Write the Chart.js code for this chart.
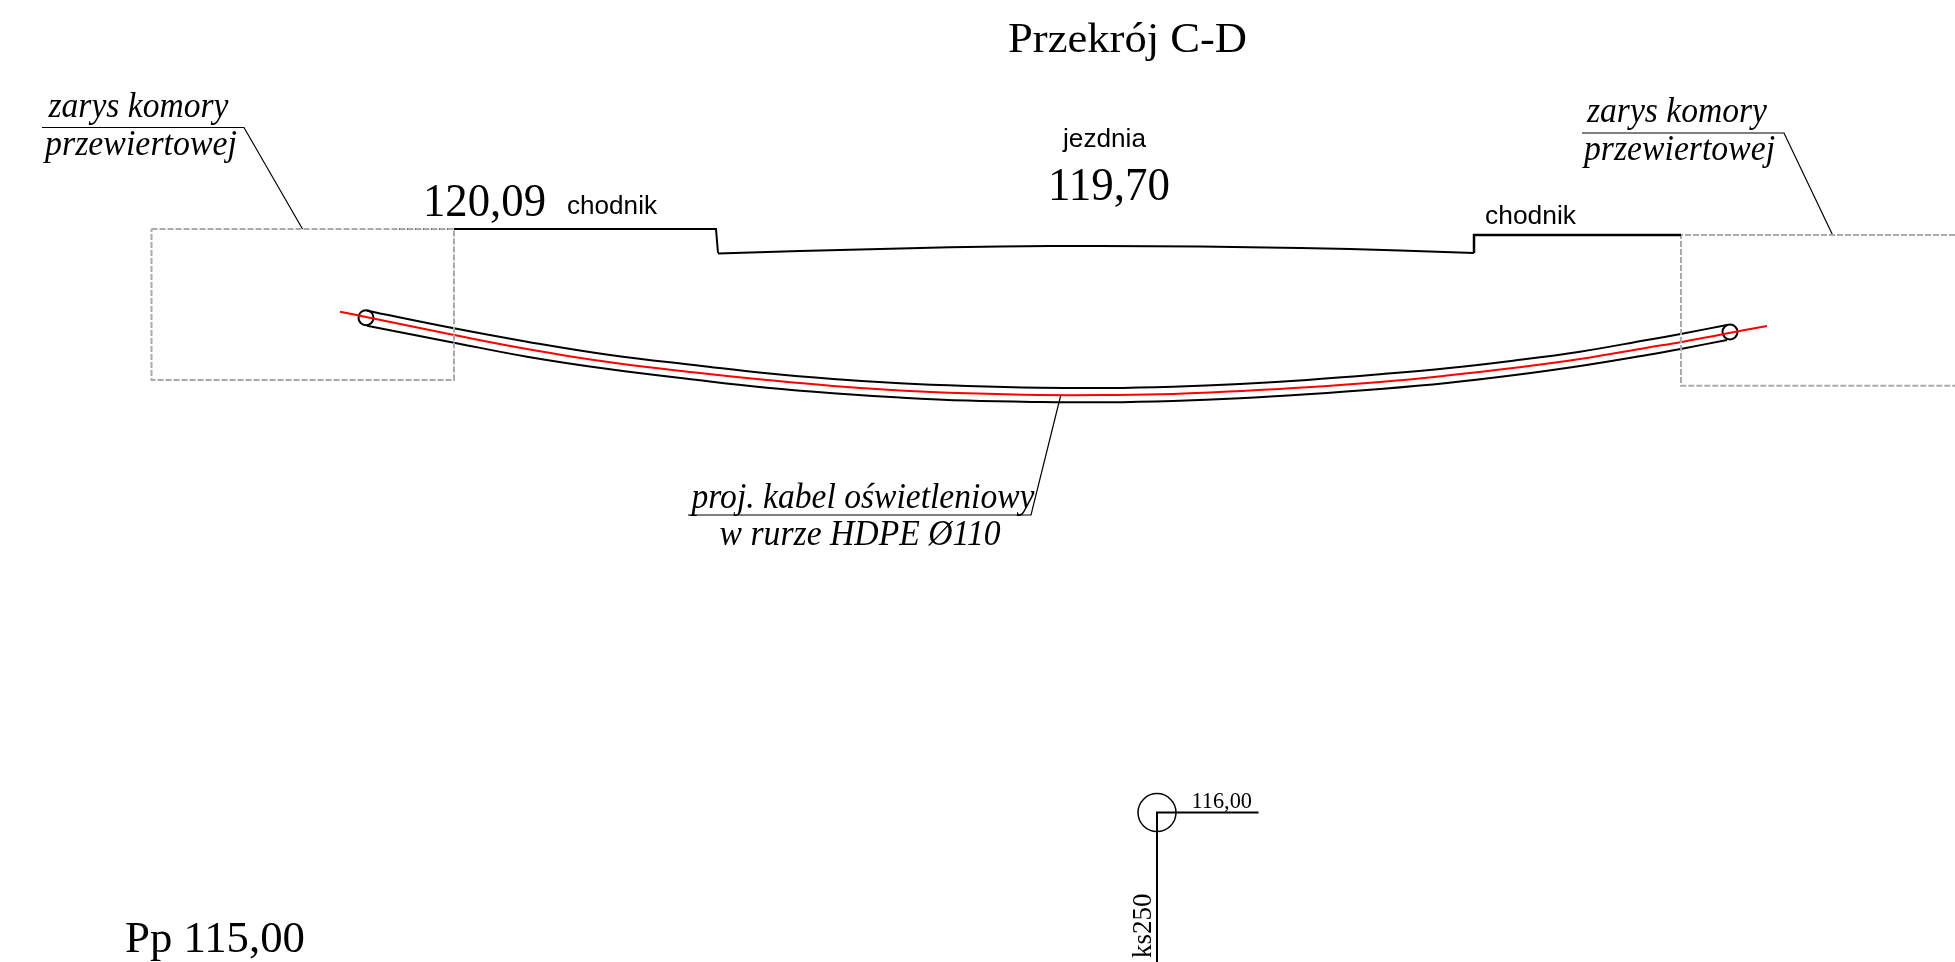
<!DOCTYPE html>
<html>
<head>
<meta charset="utf-8">
<title>Przekrój C-D</title>
<script src="https://cdn.jsdelivr.net/npm/chart.js@4"></script>
<style>
    html, body { margin: 0; padding: 0; background: #fff; overflow: hidden; }
    canvas { display: block; }
</style>
</head>
<body>
<canvas id="przekroj" width="1955" height="962"></canvas>
<script>
// Jednostki = piksele rysunku
const sidewalkLeftX = [454, 716, 718];
const sidewalkLeftY = [229, 229, 253];
const groundLeftX = [395, 454];
const groundLeftY = [229, 229];
const roadX = [718, 800, 900, 1000, 1100, 1200, 1300, 1400, 1474];
const roadY = [253.5, 251, 248.5, 246.5, 246, 246.6, 248, 250.5, 253];
const sidewalkRightX = [1474, 1474, 1681];
const sidewalkRightY = [253, 235, 235];
const groundRightX = [1681, 1955];
const groundRightY = [235, 235];

const pipeX = [367, 454, 527, 610, 700, 767, 833, 900, 967, 1040, 1107, 1173, 1240, 1307, 1380, 1447, 1513, 1580, 1647, 1682, 1727];
const pipeTopY = [310.7, 328.3, 341.7, 355, 365.7, 373.3, 379, 383.3, 386, 387.7, 388, 386.7, 384, 380, 374.3, 368.3, 360.7, 351.7, 340, 333.7, 325];
const pipeBottomY = [325.7, 342.7, 356.7, 369.3, 380.3, 387.7, 393.2, 397.5, 400.6, 402, 402.3, 401, 398.3, 394.3, 389, 383, 375.3, 366, 355, 348.7, 340];
const cableX = [340, 366, 454, 527, 610, 700, 767, 833, 900, 967, 1040, 1107, 1173, 1240, 1307, 1380, 1447, 1513, 1580, 1647, 1682, 1720, 1767];
const cableY = [311.7, 317, 335, 349, 362.3, 373, 380, 386, 390.5, 393.3, 395, 395, 394, 391, 387.3, 382, 375.5, 368, 359, 347.7, 342, 334.7, 326];

const chamberLeftX = [151.5, 454, 454, 151.5, 151.5];
const chamberLeftY = [229, 229, 380, 380, 229];
const chamberRightX = [1955, 1681, 1681, 1955];
const chamberRightY = [235, 235, 385.7, 385.7];

const leaderLeftX = [42, 244, 302.5];
const leaderLeftY = [127.5, 127.5, 229];
const leaderRightX = [1582, 1784, 1832.6];
const leaderRightY = [133, 133, 235];
const leaderCableX = [688, 1031, 1060.7];
const leaderCableY = [515, 515, 395.5];

const boreholeX = [1258.5, 1157, 1157];
const boreholeY = [812.6, 812.6, 962];
const pipeEndsX = [366, 1730];
const pipeEndsY = [317.7, 332];
const boreholeMarkX = [1157];
const boreholeMarkY = [812.6];

const serif = '"Liberation Serif"';
const sans = '"Liberation Sans"';
// tekst, x, linia bazowa, szerokosc, czcionka
const labels = [
    ['Przekrój C-D', 1008, 52, 239, '43px ' + serif],
    ['zarys komory', 48.5, 117, 180, 'italic 35px ' + serif],
    ['przewiertowej', 45, 155, 192, 'italic 35px ' + serif],
    ['zarys komory', 1587, 122, 180, 'italic 35px ' + serif],
    ['przewiertowej', 1584, 160, 191, 'italic 35px ' + serif],
    ['120,09', 423, 216, 123, '47px ' + serif],
    ['119,70', 1048, 200, 122, '47px ' + serif],
    ['chodnik', 567, 214, 90, '26px ' + sans],
    ['chodnik', 1485, 224, 91, '26px ' + sans],
    ['jezdnia', 1063, 147, 83, '26px ' + sans],
    ['proj. kabel oświetleniowy', 691.5, 507.5, 343, 'italic 35px ' + serif],
    ['w rurze HDPE Ø110', 719.6, 545, 281, 'italic 35px ' + serif],
    ['116,00', 1191.5, 807.5, 60.5, '23px ' + serif],
    ['Pp 115,00', 125, 952, 180, '45px ' + serif]
];

function series(xs, ys, color, width, extra) {
    return Object.assign({
        data: xs.map((x, i) => ({ x: x, y: ys[i] })),
        borderColor: color,
        borderWidth: width,
        pointRadius: 0,
        fill: false,
        showLine: true
    }, extra || {});
}

function circles(xs, ys, radius, width) {
    return {
        data: xs.map((x, i) => ({ x: x, y: ys[i] })),
        showLine: false,
        pointRadius: radius,
        pointBorderWidth: width,
        pointBorderColor: '#000',
        pointBackgroundColor: 'rgba(0,0,0,0)'
    };
}

// Opisy rysowane wzgledem skal wykresu
const labelPlugin = {
    id: 'labelPlugin',
    afterDatasetsDraw(chart) {
        const ctx = chart.ctx;
        const sx = chart.scales.x;
        const sy = chart.scales.y;
        ctx.save();
        ctx.fillStyle = '#000';
        ctx.textBaseline = 'alphabetic';
        labels.forEach(function(l) {
            ctx.font = l[4];
            const w = ctx.measureText(l[0]).width;
            ctx.save();
            ctx.translate(sx.getPixelForValue(l[1]), sy.getPixelForValue(l[2]));
            ctx.scale(l[3] / w, 1);
            ctx.fillText(l[0], 0, 0);
            ctx.restore();
        });
        // opis odwiertu, pionowo
        ctx.font = '27px ' + serif;
        ctx.translate(sx.getPixelForValue(1151), sy.getPixelForValue(958));
        ctx.rotate(-Math.PI / 2);
        ctx.fillText('ks250', 0, 0);
        ctx.restore();
    }
};

new Chart(document.getElementById('przekroj'), {
    type: 'scatter',
    data: {
        datasets: [
            series(sidewalkLeftX, sidewalkLeftY, '#000', 2),
            series(roadX, roadY, '#000', 2, { tension: 0.4 }),
            series(sidewalkRightX, sidewalkRightY, '#000', 2.5),
            series(chamberLeftX, chamberLeftY, '#aaa', 2, { borderDash: [6, 2] }),
            series(chamberRightX, chamberRightY, '#aaa', 2, { borderDash: [6, 2] }),
            series(groundLeftX, groundLeftY, '#333', 2, { borderDash: [2, 2] }),
            series(groundRightX, groundRightY, '#333', 2, { borderDash: [2, 2] }),
            series(pipeX, pipeTopY, '#000', 2, { tension: 0.4 }),
            series(pipeX, pipeBottomY, '#000', 2, { tension: 0.4 }),
            series(cableX, cableY, '#f00', 2, { tension: 0.4 }),
            series(leaderLeftX, leaderLeftY, '#000', 1.2),
            series(leaderRightX, leaderRightY, '#000', 1.2),
            series(leaderCableX, leaderCableY, '#000', 1.2),
            series(boreholeX, boreholeY, '#000', 2),
            circles(pipeEndsX, pipeEndsY, 7.5, 2),
            circles(boreholeMarkX, boreholeMarkY, 19, 1.5)
        ]
    },
    options: {
        responsive: false,
        animation: false,
        layout: { padding: 0, autoPadding: false },
        plugins: {
            legend: { display: false },
            tooltip: { enabled: false }
        },
        scales: {
            x: { type: 'linear', min: 0, max: 1955, display: false },
            y: { type: 'linear', min: 0, max: 962, reverse: true, display: false }
        }
    },
    plugins: [labelPlugin]
});
</script>
</body>
</html>
